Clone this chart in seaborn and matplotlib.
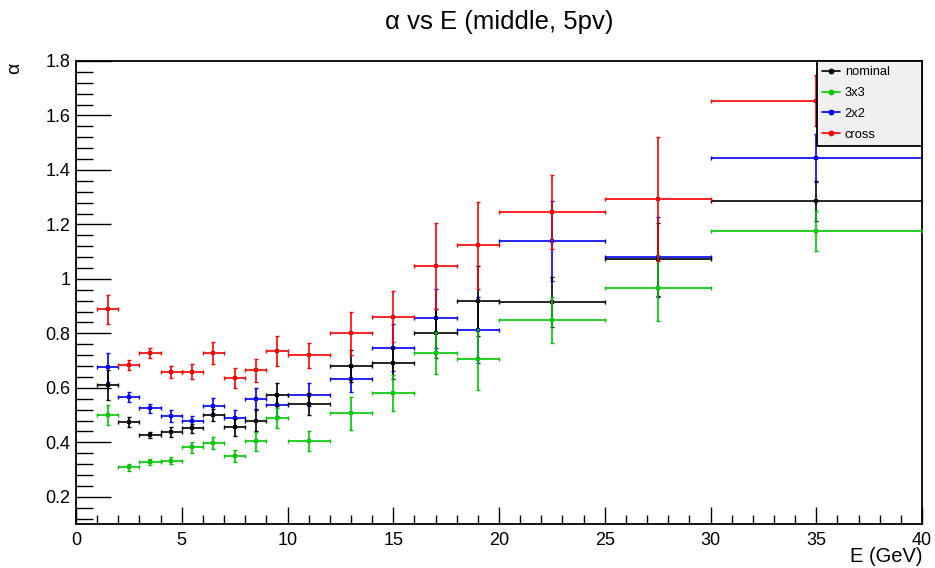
import numpy as np
import pandas as pd
import matplotlib
matplotlib.use("Agg")
import matplotlib.pyplot as plt
from matplotlib.lines import Line2D
from matplotlib.ticker import MultipleLocator, FuncFormatter
import seaborn as sns

# Energy bins (centres and half widths, GeV)
energy = [1.5, 2.5, 3.5, 4.5, 5.5, 6.5, 7.5, 8.5, 9.5, 11, 13, 15, 17, 19, 22.5, 27.5, 35]
energy_halfwidth = [0.5, 0.5, 0.5, 0.5, 0.5, 0.5, 0.5, 0.5, 0.5, 1, 1, 1, 1, 1, 2.5, 2.5, 5]

series_names = ["nominal", "3x3", "2x2", "cross"]

alpha_nominal = [0.611, 0.475, 0.426, 0.437, 0.451, 0.502, 0.455, 0.480, 0.574,
                 0.541, 0.681, 0.690, 0.801, 0.920, 0.916, 1.072, 1.286]
err_nominal = [0.056, 0.018, 0.012, 0.018, 0.018, 0.022, 0.032, 0.037, 0.042,
               0.040, 0.058, 0.059, 0.090, 0.128, 0.092, 0.135, 0.073]

alpha_3x3 = [0.500, 0.309, 0.328, 0.333, 0.381, 0.398, 0.349, 0.403, 0.488,
             0.405, 0.506, 0.581, 0.727, 0.704, 0.850, 0.967, 1.176]
err_3x3 = [0.037, 0.013, 0.010, 0.013, 0.019, 0.021, 0.023, 0.035, 0.037,
           0.038, 0.061, 0.067, 0.078, 0.113, 0.084, 0.122, 0.073]

alpha_2x2 = [0.675, 0.567, 0.525, 0.496, 0.477, 0.535, 0.490, 0.560, 0.537,
             0.574, 0.631, 0.748, 0.855, 0.812, 1.140, 1.081, 1.445]
err_2x2 = [0.054, 0.018, 0.017, 0.021, 0.020, 0.028, 0.029, 0.039, 0.040,
           0.042, 0.046, 0.085, 0.109, 0.120, 0.146, 0.147, 0.088]

alpha_cross = [0.889, 0.683, 0.729, 0.659, 0.659, 0.727, 0.636, 0.664, 0.735,
               0.719, 0.800, 0.861, 1.047, 1.123, 1.244, 1.294, 1.654]
err_cross = [0.053, 0.018, 0.018, 0.022, 0.027, 0.041, 0.035, 0.042, 0.055,
             0.045, 0.080, 0.094, 0.157, 0.159, 0.136, 0.227, 0.094]

values = {"nominal": alpha_nominal, "3x3": alpha_3x3, "2x2": alpha_2x2, "cross": alpha_cross}
errors = {"nominal": err_nominal, "3x3": err_3x3, "2x2": err_2x2, "cross": err_cross}
colors = {"nominal": "#000000", "3x3": "#00c800", "2x2": "#0000ff", "cross": "#ff0000"}
layer = {"2x2": 2, "nominal": 3, "3x3": 4, "cross": 5}

rows = []
for name in series_names:
    for e, hw, a, s in zip(energy, energy_halfwidth, values[name], errors[name]):
        rows.append({"E": e, "dE": hw, "alpha": a, "err": s, "series": name})
df = pd.DataFrame(rows)

sns.set_theme(style="ticks")
plt.rcParams["font.family"] = ["Liberation Sans", "DejaVu Sans"]
plt.rcParams["text.color"] = "black"
plt.rcParams["axes.labelcolor"] = "black"
plt.rcParams["xtick.color"] = "black"
plt.rcParams["ytick.color"] = "black"

fig = plt.figure(figsize=(9.35, 5.68), dpi=100)
ax = fig.add_axes([76 / 935, 1 - 524 / 568, (922 - 76) / 935, (524 - 61) / 568])

for name in series_names:
    sub = df[df["series"] == name]
    ax.errorbar(sub["E"], sub["alpha"], xerr=sub["dE"], yerr=sub["err"], fmt="none",
                ecolor=colors[name], elinewidth=1.2, capsize=1.2, capthick=1.0,
                zorder=layer[name])
    sns.scatterplot(data=sub, x="E", y="alpha", color=colors[name], marker="s",
                    s=10, linewidth=0, ax=ax, zorder=layer[name] + 0.5, legend=False)

ax.set_xlim(0, 40)
ax.set_ylim(0.1, 1.8)
ax.set_xlabel("")
ax.set_ylabel("")

ax.xaxis.set_major_locator(MultipleLocator(5))
ax.xaxis.set_minor_locator(MultipleLocator(1))
ax.yaxis.set_major_locator(MultipleLocator(0.2))
ax.yaxis.set_minor_locator(MultipleLocator(0.04))
ax.xaxis.set_major_formatter(FuncFormatter(lambda v, p: f"{v:g}"))
ax.yaxis.set_major_formatter(FuncFormatter(lambda v, p: f"{v:g}"))

ax.tick_params(axis="x", which="major", direction="in", length=12.5, width=1.0,
               labelsize=13, pad=5.5, top=False)
ax.tick_params(axis="x", which="minor", direction="in", length=6.5, width=1.0, top=False)
ax.tick_params(axis="y", which="major", direction="in", length=25, width=1.0,
               labelsize=13, pad=4, right=False)
ax.tick_params(axis="y", which="minor", direction="in", length=12.5, width=1.0, right=False)

for sp in ax.spines.values():
    sp.set_visible(True)
    sp.set_color("black")
    sp.set_linewidth(1.3)

handles = [Line2D([0], [0], color=colors[n], lw=1.2, marker="o", markersize=3.2)
           for n in series_names]
leg = ax.legend(handles, series_names, loc="upper left",
                bbox_to_anchor=((817 - 76) / 846, 1.0, (922 - 817) / 846, 0.0),
                mode="expand", borderaxespad=0, fontsize=9.3, frameon=True,
                fancybox=False, facecolor="#f0f0f0", edgecolor="black", framealpha=1,
                handlelength=1.4, handletextpad=0.35, labelspacing=0.68,
                borderpad=0.4)
leg.get_frame().set_linewidth(1.3)
leg.set_zorder(20)

fig.text(499 / 935, 1 - 22 / 568, "α vs E (middle, 5pv)", ha="center", va="center",
         fontsize=18.5)
fig.text(923 / 935, 1 - 557 / 568, "E (GeV)", ha="right", va="center", fontsize=14.5)
fig.text(15 / 935, 1 - 68 / 568, "α", ha="center", va="center", fontsize=14, rotation=90)

fig.savefig("out.png", dpi=100, facecolor="white")
